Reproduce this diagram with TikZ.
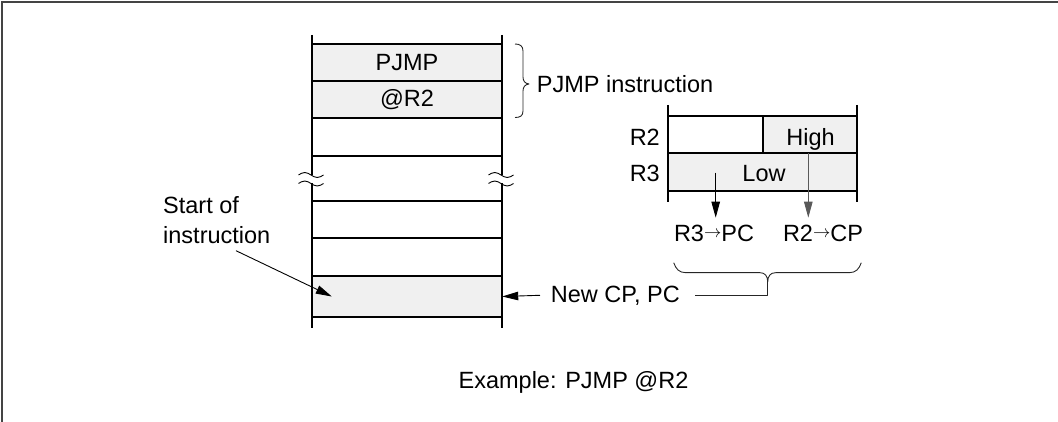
\documentclass[tikz,border=0pt]{standalone}
\usepackage{fontspec}
\setmainfont{Liberation Sans}
\usetikzlibrary{arrows.meta}
\definecolor{cellgray}{HTML}{F0F0F0}
\definecolor{framegray}{HTML}{444444}
\newcommand{\rarr}{\raisebox{3.8pt}{\fontsize{17.5}{17.5}\selectfont$\rightarrow$}}
\begin{document}
\begin{tikzpicture}[x=1pt,y=-1pt,
  txt/.style={inner sep=0pt, font=\fontsize{23.5}{30}\selectfont},
  cell/.style={txt, minimum width=190pt, fill=cellgray},
  memline/.style={line width=1.8pt},
  thinline/.style={line width=0.9pt},
  brace/.style={line width=0.9pt, draw=black!85, line join=round},
  arr/.style={line width=0.9pt, -{Triangle[length=16pt,width=8.5pt]}},
]
\useasboundingbox (0,0) rectangle (1058,422);
% frame (left and top only)
\draw[line width=2.2pt, draw=framegray] (2,422) -- (2,2) -- (1058,2);

% memory column cells
\node[cell, minimum height=37.3pt] (pjmp) at (407,62.35) {PJMP};
\node[cell, minimum height=37pt] (atr) at (407,99.5) {@R2};
\node[cell, minimum height=41pt] (newcell) at (407,296.5) {};
\foreach \y in {43.7,81,118,156,201,238,276,317}
  \draw[memline] (312,\y) -- (502,\y);
\draw[memline] (312,35) -- (312,175) (312,183.5) -- (312,328);
\draw[memline] (502,35) -- (502,175) (502,183.5) -- (502,328);
% break marks
\foreach \x in {298.5,488.5}{
  \draw[thinline] (\x,175) sin ++(6.25,-2.5) cos ++(6.25,2.5) sin ++(6.25,2.5) cos ++(6.25,-2.5);
  \draw[thinline] (\x,183.5) sin ++(6.25,-2.5) cos ++(6.25,2.5) sin ++(6.25,2.5) cos ++(6.25,-2.5);
}

% upper brace and label
\draw[brace] (515,44) .. controls (520,44) and (523,46) .. (523,51) -- (523,77)
  .. controls (523,81) and (525,83.5) .. (529,84)
  .. controls (525,84.5) and (523,87) .. (523,91) -- (523,111)
  .. controls (523,116) and (520,117.5) .. (515,117.5);
\node[txt, anchor=base west] (pjmpins) at (536.7,92.3) {PJMP instruction};

% registers
\fill[cellgray] (763,115.7) rectangle (856.7,153.3);
\fill[cellgray] (667.7,153.3) rectangle (856.7,190.7);
\draw[memline] (667.7,105) -- (667.7,201.7) (856.7,105) -- (856.7,201.7);
\draw[memline] (667.7,115.7) -- (856.7,115.7) (667.7,153.3) -- (856.7,153.3)
  (667.7,190.7) -- (856.7,190.7) (763,115.7) -- (763,153.3);
\node[txt, anchor=base east] (r2) at (660,145.3) {R2};
\node[txt, anchor=base east] (r3) at (660,182) {R3};
\node[txt, anchor=base] (high) at (810.5,145.3) {High};
\node[txt, anchor=base] (low) at (764,182) {Low};

\node[txt, anchor=base] (r3pc) at (714,241.5) {R3\rarr PC};
\node[txt, anchor=base] (r2cp) at (823,241.5) {R2\rarr CP};
\coordinate (lowsrc) at (715.7,172.7);
\coordinate (highsrc) at (808.3,153.3);
\draw[arr] (lowsrc) -- (lowsrc |- 0,217.7);
\draw[arr, draw=black!65, fill=black] (highsrc) -- (highsrc |- 0,217.7);

% lower brace
\coordinate (btip) at (767.7,282);
\draw[brace] (673.7,262.7) .. controls (676,269) and (679,272.7) .. (686,272.7) -- (760,272.7)
  .. controls (765,272.7) and (767.7,276) .. (btip)
  .. controls (767.7,276) and (770.5,272.7) .. (775.5,272.7) -- (849,272.7)
  .. controls (856,272.7) and (859,269) .. (861.3,262.7);
\node[txt, anchor=base west] (newcp) at (550.7,302) {New CP, PC};
\draw[brace] (btip) |- ([xshift=15pt]newcp.east);
\draw[arr] ([xshift=-10.7pt]newcp.west) -- (newcell.east);

% start of instruction
\node[txt, anchor=north west, align=left] (start) at (163,196) {Start of\\instruction};
\coordinate (sA) at (236,250.7);
\draw[arr] (sA) -- ([xshift=20pt]newcell.west);

% caption
\node[txt, anchor=base] (caption) at (573.5,388) {Example: PJMP @R2};
\end{tikzpicture}
\end{document}
